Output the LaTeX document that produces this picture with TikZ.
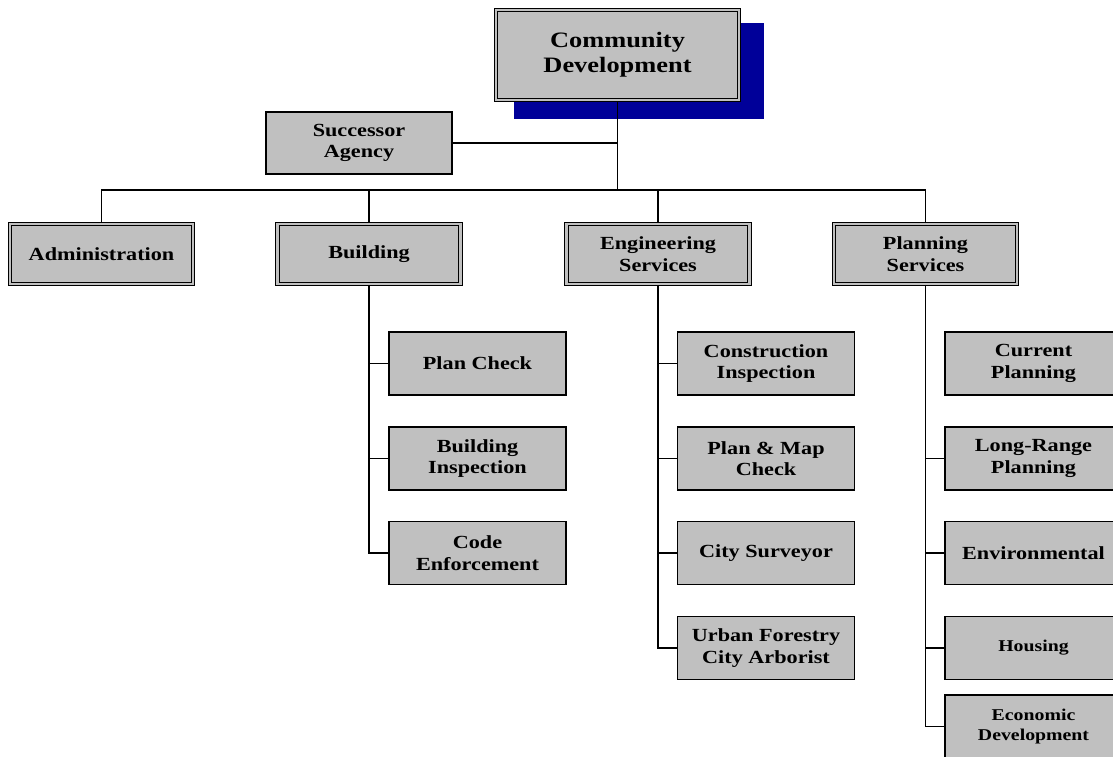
\documentclass[tikz,border=0pt]{standalone}
\usepackage{fontspec}
\setmainfont{Liberation Serif}[FakeStretch=1.2]
\usetikzlibrary{backgrounds}
\definecolor{boxgray}{RGB}{192,192,192}
\definecolor{shadowblue}{RGB}{0,0,153}
\tikzset{
  base/.style={rectangle, fill=boxgray, align=center, inner sep=0pt,
    font=\fontsize{18.5}{21.5}\selectfont\bfseries},
  single/.style={base, draw=black, line width=1.2pt},
  dbl/.style={base, draw=black, line width=1pt, double=boxgray, double distance=2.4pt},
  small/.style={font=\fontsize{16.5}{20}\selectfont\bfseries},
  conn/.style={draw=black, line width=1.1pt},
}
\begin{document}
\begin{tikzpicture}[x=1pt,y=-1pt]
\useasboundingbox (0,0) rectangle (1113,756);
% top
\node[dbl, minimum width=243pt, minimum height=90pt,
  font=\fontsize{22}{25}\selectfont\bfseries] (cd) at (617.5,55) {\raisebox{-2pt}{Community}\\\raisebox{-2pt}{Development}};
\node[single, minimum width=186pt, minimum height=62pt] (sa) at (359,143) {Successor\\Agency};
% level 2
\node[dbl, minimum width=183pt, minimum height=60pt] (adm) at (101.5,254) {Administration};
\node[dbl, minimum width=183pt, minimum height=60pt] (bld) at (369,254) {Building};
\node[dbl, minimum width=183pt, minimum height=60pt] (eng) at (658,254) {Engineering\\Services};
\node[dbl, minimum width=183pt, minimum height=60pt] (pln) at (925.5,254) {Planning\\Services};
% building children
\tikzset{cb/.style={single, minimum width=177pt, minimum height=63pt}}
\node[cb] (pc) at (477.5,363.5) {Plan Check};
\node[cb] (bi) at (477.5,458.5) {Building\\Inspection};
\node[cb] (ce) at (477.5,553) {Code\\Enforcement};
% engineering children
\node[cb] (ci) at (766,363.5) {Construction\\Inspection};
\node[cb] (pm) at (766,458.5) {Plan \& Map\\Check};
\node[cb] (cs) at (766,553) {City Surveyor};
\node[cb] (uf) at (766,648) {Urban Forestry\\City Arborist};
% planning children
\node[cb] (cp) at (1033.5,363.5) {Current\\Planning};
\node[cb] (lr) at (1033.5,458.5) {Long-Range\\Planning};
\node[cb] (en) at (1033.5,553) {Environmental};
\node[cb, small] (ho) at (1033.5,648) {Housing};
\node[cb, small] (ed) at (1033.5,726.5) {Economic\\Development};
\begin{scope}[on background layer]
  \fill[shadowblue] ([shift={(18pt,-18pt)}]cd.south west) rectangle ([shift={(24pt,-13pt)}]cd.north east);
  \coordinate (top) at (cd.south |- 0,143);
  \coordinate (bus) at (cd.south |- 0,190);
  \draw[conn] (cd.south) -- (bus);
  \draw[conn] (sa.east) -- (top);
  \draw[conn] (adm.north) |- (bus) -| (pln.north);
  \draw[conn] (bld.north) -- (bld.north |- bus);
  \draw[conn] (eng.north) -- (eng.north |- bus);
  \draw[conn] (bld.south) |- (ce.west);
  \draw[conn] (bld.south |- pc.west) -- (pc.west);
  \draw[conn] (bld.south |- bi.west) -- (bi.west);
  \draw[conn] (eng.south) |- (uf.west);
  \draw[conn] (eng.south |- ci.west) -- (ci.west);
  \draw[conn] (eng.south |- pm.west) -- (pm.west);
  \draw[conn] (eng.south |- cs.west) -- (cs.west);
  \draw[conn] (pln.south) |- (ed.west);
  \draw[conn] (pln.south |- lr.west) -- (lr.west);
  \draw[conn] (pln.south |- en.west) -- (en.west);
  \draw[conn] (pln.south |- ho.west) -- (ho.west);
\end{scope}
\end{tikzpicture}
\end{document}
